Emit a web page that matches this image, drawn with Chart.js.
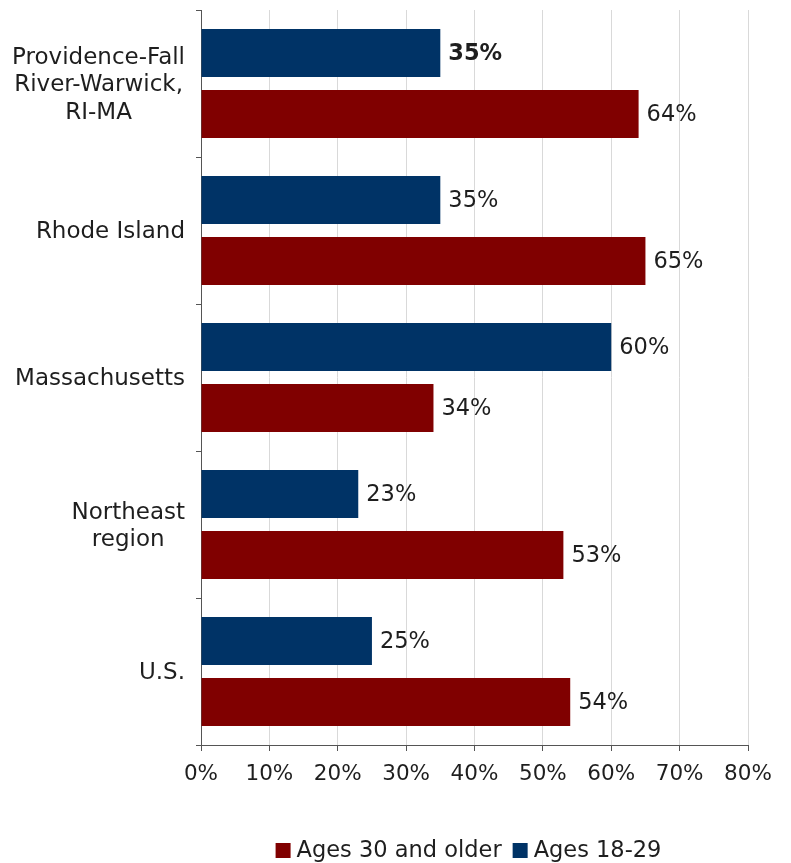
<!DOCTYPE html>
<html>
<head>
<meta charset="utf-8">
<script src="https://cdn.jsdelivr.net/npm/chart.js@4"></script>
<style>
  body { margin: 0; background: #fff; }
  #wrap { width: 791px; height: 863px; position: relative; }
</style>
</head>
<body>
<div id="wrap"><canvas id="myChart"></canvas></div>
<script>
// chart data
const categories = [
    ['Providence-Fall', 'River-Warwick,', 'RI-MA'],
    ['Rhode Island'],
    ['Massachusetts'],
    ['Northeast', 'region'],
    ['U.S.']
];
const young = [35, 35, 60, 23, 25];     // Ages 18-29
const older = [64, 65, 34, 53, 54];     // Ages 30 and older
const xTicks = [0, 10, 20, 30, 40, 50, 60, 70, 80];
const seriesNames = ['Ages 18-29', 'Ages 30 and older'];

const FONT = "'DejaVu Sans', Verdana, sans-serif";
const BLUE = '#003366';
const RED = '#800000';
const TEXT = '#1e1e1e';

// category labels: block right-aligned, lines centred inside block
const catLabels = {
    id: 'catLabels',
    afterDraw(chart) {
        const ctx = chart.ctx;
        const y = chart.scales.y;
        ctx.save();
        ctx.font = '23px ' + FONT;
        ctx.fillStyle = TEXT;
        ctx.textAlign = 'center';
        ctx.textBaseline = 'middle';
        const lh = 27.5;
        categories.forEach((lines, i) => {
            const w = Math.max(...lines.map(l => ctx.measureText(l).width));
            const cx = chart.chartArea.left - 16 - w / 2;
            const cy = y.getPixelForValue(i) + 2;
            const top = cy - (lines.length - 1) * lh / 2;
            lines.forEach((l, k) => ctx.fillText(l, cx, top + k * lh));
        });
        ctx.restore();
    }
};

// value labels at the end of each bar
const valueLabels = {
    id: 'valueLabels',
    afterDatasetsDraw(chart) {
        const ctx = chart.ctx;
        ctx.save();
        ctx.fillStyle = TEXT;
        ctx.textAlign = 'left';
        ctx.textBaseline = 'middle';
        chart.data.datasets.forEach((ds, di) => {
            chart.getDatasetMeta(di).data.forEach((bar, i) => {
                const bold = di === 0 && i === 0;
                ctx.font = (bold ? 'bold ' : '') + '22.5px ' + FONT;
                ctx.fillText(ds.data[i] + '%', bar.x + 8, bar.y + 1);
            });
        });
        ctx.restore();
    }
};

// legend under the plot, older group first
const bottomLegend = {
    id: 'bottomLegend',
    afterDraw(chart) {
        const ctx = chart.ctx;
        const items = chart.data.datasets.slice().reverse();
        ctx.save();
        ctx.font = '22.5px ' + FONT;
        ctx.textBaseline = 'middle';
        ctx.textAlign = 'left';
        const box = 15, gapBox = 6, gapItem = 11;
        const widths = items.map(d => box + gapBox + ctx.measureText(d.label).width);
        const total = widths.reduce((a, b) => a + b, 0) + gapItem * (items.length - 1);
        const area = chart.chartArea;
        let x = (area.left + area.right) / 2 - 6 - total / 2;
        const cy = 850.5;
        items.forEach((d, i) => {
            ctx.fillStyle = d.backgroundColor;
            ctx.fillRect(x, cy - box / 2, box, box);
            ctx.fillStyle = TEXT;
            ctx.fillText(d.label, x + box + gapBox, cy + 1);
            x += widths[i] + gapItem;
        });
        ctx.restore();
    }
};

const data = {
    labels: categories.map(c => c.join(' ')),
    datasets: [{
        label: seriesNames[0],
        data: young,
        backgroundColor: BLUE
    }, {
        label: seriesNames[1],
        data: older,
        backgroundColor: RED
    }]
};

const config = {
    type: 'bar',
    data: data,
    options: {
        indexAxis: 'y',
        responsive: true,
        maintainAspectRatio: false,
        animation: false,
        categoryPercentage: 0.83,
        barPercentage: 0.79,
        layout: {
            padding: { top: 10, right: 43, bottom: 73, left: 0 }
        },
        plugins: {
            legend: { display: false },
            tooltip: { enabled: false }
        },
        scales: {
            x: {
                min: 0,
                max: 80,
                afterBuildTicks: s => { s.ticks = xTicks.map(v => ({ value: v })); },
                afterFit: s => { s.height = 45; },
                ticks: {
                    padding: 11,
                    color: TEXT,
                    font: { family: FONT, size: 21.5 },
                    callback: v => v + '%'
                },
                grid: {
                    color: '#d9d9d9',
                    tickColor: '#555',
                    tickLength: 6
                },
                border: { color: '#555' }
            },
            y: {
                afterFit: s => { s.width = 201; },
                ticks: {
                    color: 'rgba(0,0,0,0)',
                    font: { family: FONT, size: 1 }
                },
                grid: {
                    offset: true,
                    drawOnChartArea: false,
                    tickColor: '#555',
                    tickLength: 5
                },
                border: { color: '#555' }
            }
        }
    },
    plugins: [catLabels, valueLabels, bottomLegend]
};

const ctx = document.getElementById('myChart').getContext('2d');
const myChart = new Chart(ctx, config);
</script>
</body>
</html>
